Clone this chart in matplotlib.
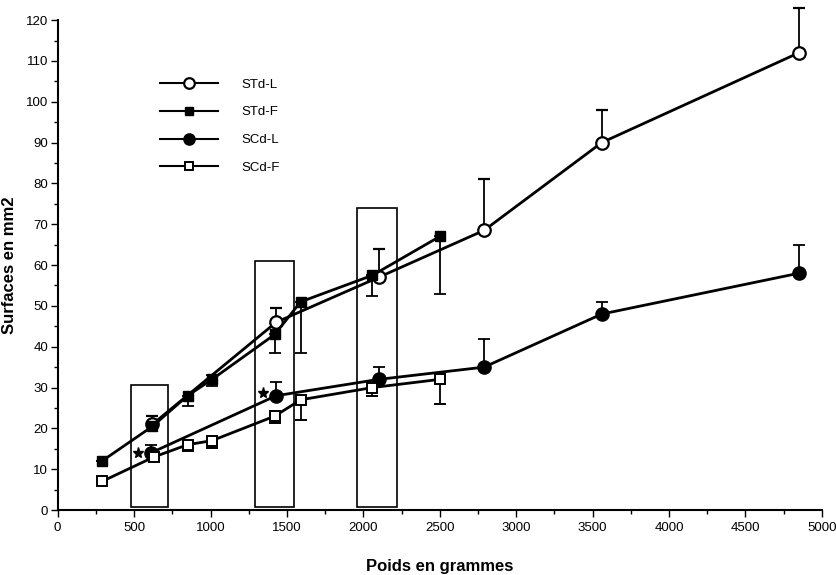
import numpy as np
import matplotlib

matplotlib.use("Agg")
import matplotlib.pyplot as plt
from matplotlib.patches import Rectangle

plt.rcParams["font.family"] = ["Liberation Sans", "DejaVu Sans"]

# STd-L : open circles
stdl_x = [620, 1430, 2100, 2790, 3560, 4850]
stdl_y = [21, 46, 57, 68.5, 90, 112]
stdl_lo = [1.5, 0, 0, 0, 0, 0]
stdl_up = [2, 3.5, 7, 12.5, 8, 11]

# STd-F : filled squares
stdf_x = [290, 620, 850, 1010, 1420, 1590, 2060, 2500]
stdf_y = [12, 20.5, 28, 32, 43, 51, 57.5, 67]
stdf_lo = [0, 1, 2.5, 1.5, 4.5, 12.5, 5, 14]
stdf_up = [0, 0, 0, 1, 0, 0, 0, 0]

# SCd-L : filled circles
scdl_x = [610, 1430, 2100, 2790, 3560, 4850]
scdl_y = [14, 28, 32, 35, 48, 58]
scdl_lo = [0, 0, 0, 0, 0, 0]
scdl_up = [2, 3.3, 3, 7, 3, 7]

# SCd-F : open squares
scdf_x = [290, 630, 850, 1010, 1420, 1590, 2060, 2500]
scdf_y = [7, 13, 16, 17, 23, 27, 30, 32]
scdf_lo = [0, 1, 1.5, 1.7, 1.7, 5, 2, 6]
scdf_up = [0, 0, 1, 0, 0, 0, 0, 0]

# highlighted weight ranges (open boxes)
box_left = [480, 1290, 1960]
box_right = [725, 1545, 2220]
box_top = [30.7, 61, 74]

# significance stars
star_x = [525, 1346]
star_y = [14, 28.6]


def main():
    fig = plt.figure(figsize=(8.36, 5.75), dpi=100)
    ax = fig.add_axes([0.069, 0.113, 0.914, 0.852])

    for l, r, t in zip(box_left, box_right, box_top):
        ax.add_patch(Rectangle((l, 0.8), r - l, t - 0.8, fill=False,
                               lw=1.2, ec="black", zorder=1))

    common = dict(color="black", lw=2, capsize=4, elinewidth=1.3,
                  capthick=1.3, zorder=3)
    series = [
        (stdl_x, stdl_y, stdl_lo, stdl_up, "STd-L",
         dict(marker="o", ms=9, mfc="white", mec="black", mew=1.6)),
        (stdf_x, stdf_y, stdf_lo, stdf_up, "STd-F",
         dict(marker="s", ms=7, mfc="black", mec="black")),
        (scdl_x, scdl_y, scdl_lo, scdl_up, "SCd-L",
         dict(marker="o", ms=9.5, mfc="black", mec="black")),
        (scdf_x, scdf_y, scdf_lo, scdf_up, "SCd-F",
         dict(marker="s", ms=6.5, mfc="white", mec="black", mew=1.4)),
    ]
    for x, y, lo, up, name, mk in series:
        eb = ax.errorbar(x, y, yerr=[lo, up], label=name, **mk, **common)
        for art in eb.lines[1] + eb.lines[2]:
            art.set_clip_on(False)

    ax.plot(star_x, star_y, ls="none", marker="*", ms=8, color="black")

    ax.set_xlim(0, 5000)
    ax.set_ylim(0, 120)
    ax.set_xticks(np.arange(0, 5001, 500))
    ax.set_xticks(np.arange(250, 5000, 500), minor=True)
    ax.set_yticks(np.arange(0, 121, 10))
    ax.set_yticks(np.arange(5, 120, 10), minor=True)
    ax.tick_params(axis="both", which="major", direction="out", length=5,
                   width=1, labelsize=9.5)
    ax.tick_params(axis="y", which="major", pad=2)
    ax.tick_params(axis="both", which="minor", direction="out", length=3,
                   width=1)
    for s in ("top", "right"):
        ax.spines[s].set_visible(False)
    for s in ("left", "bottom"):
        ax.spines[s].set_linewidth(1.5)

    ax.set_xlabel("Poids en grammes", fontsize=12, fontweight="bold",
                  labelpad=18)
    ax.set_ylabel("Surfaces en mm2", fontsize=12, fontweight="bold",
                  labelpad=6)

    handles, labels = ax.get_legend_handles_labels()
    handles = [h[0] for h in handles]
    leg = ax.legend(handles, labels, loc="upper left",
                    bbox_to_anchor=(0.118, 0.905), frameon=False,
                    handlelength=4.4, handletextpad=1.8, labelspacing=1.17,
                    fontsize=9.5, markerscale=0.85)
    for h in leg.legend_handles:
        h.set_linewidth(1.5)

    fig.savefig("out.png", dpi=100)


if __name__ == "__main__":
    main()
